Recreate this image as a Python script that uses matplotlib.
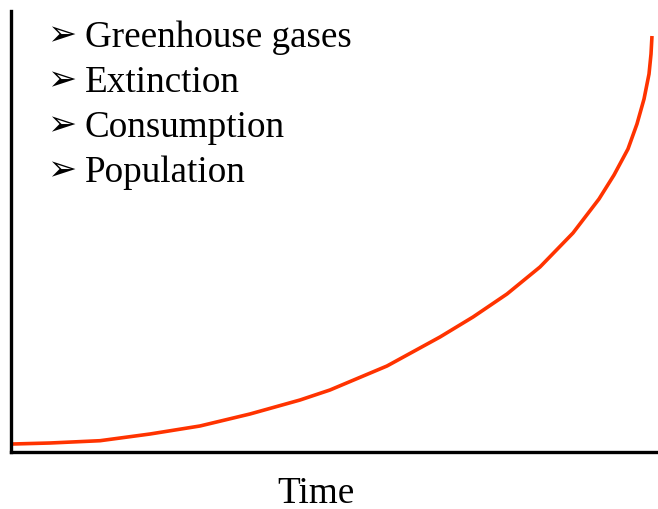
import matplotlib
matplotlib.use("Agg")
import matplotlib.pyplot as plt

# Curve (time in % of axis width, value in % of axis height)
time = [0.15, 6.03, 13.76, 21.48, 29.21, 36.94, 44.67, 49.30, 58.11, 66.31,
        71.41, 76.66, 81.76, 86.86, 90.88, 93.20, 95.36, 96.75, 97.84, 98.61,
        98.92, 99.07]
value = [1.81, 2.04, 2.56, 4.08, 5.90, 8.62, 11.79, 14.06, 19.50, 26.08,
         30.61, 35.83, 41.95, 49.66, 57.37, 62.81, 68.71, 74.38, 80.05, 85.71,
         90.25, 94.33]

bullets = ["Greenhouse gases", "Extinction", "Consumption", "Population"]
xlabel = "Time"

W, H = 658, 510
fig = plt.figure(figsize=(W / 100, H / 100), dpi=100)
ax = fig.add_axes([11 / W, 57 / H, (W - 11) / W, (453 - 12) / H])
ax.set_xlim(0, 100)
ax.set_ylim(0, 100)
ax.plot(time, value, color="#FF3300", lw=2.6, solid_capstyle="butt",
        solid_joinstyle="round")
for s in ["top", "right"]:
    ax.spines[s].set_visible(False)
for s in ["left", "bottom"]:
    ax.spines[s].set_linewidth(2.4)
    ax.spines[s].set_color("black")
ax.set_xticks([])
ax.set_yticks([])

serif = ["Liberation Serif", "DejaVu Serif"]
for i, b in enumerate(bullets):
    base = 47 + 45 * i
    fig.text(85 / W, 1 - base / H, b, fontsize=26.7, family=serif,
             va="baseline", ha="left")
    fig.text(47 / W, 1 - (base - 12) / H, "\u27a2", fontsize=25,
             family=["DejaVu Sans"], va="center", ha="left")

fig.text(316 / W, 1 - 503 / H, xlabel, fontsize=26.7, family=serif,
         va="baseline", ha="center")

fig.savefig("out.png", dpi=100)
